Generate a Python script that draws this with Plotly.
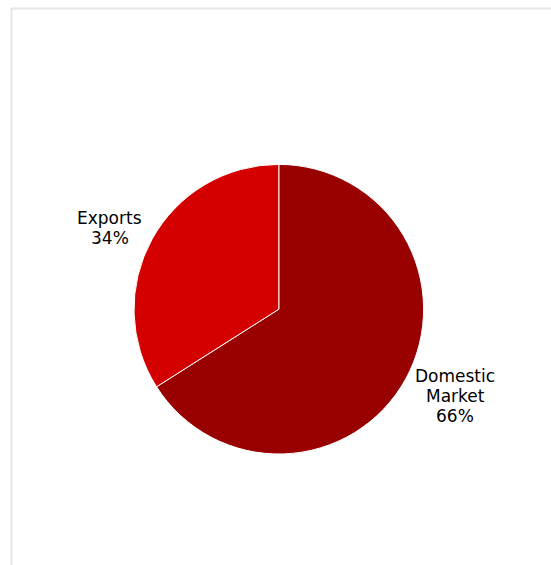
import plotly.graph_objects as go

labels = ["Domestic Market", "Exports"]
label_lines = [["Domestic", "Market"], ["Exports"]]
values = [66, 34]
colors = ["#990000", "#D40000"]

W, H = 551, 565

# pie geometry (pixels)
cx, cy, r = 278.8, 309.2, 144.8

fig = go.Figure(go.Pie(
    labels=labels,
    values=values,
    sort=False,
    direction="clockwise",
    rotation=0,
    marker=dict(colors=colors, line=dict(color="white", width=1)),
    textinfo="none",
    showlegend=False,
    domain=dict(x=[(cx - r) / W, (cx + r) / W], y=[(H - cy - r) / H, (H - cy + r) / H]),
    hoverinfo="skip",
))

# label anchor positions (pixel centres of first line) and line spacing
label_pos = [(455, 376.2), (110, 218.2)]
line_step = 19.7
total = sum(values)

annotations = []
for lines, v, (px, py) in zip(label_lines, values, label_pos):
    all_lines = lines + [f"{round(100 * v / total)}%"]
    for i, t in enumerate(all_lines):
        annotations.append(dict(
            text=t, xref="paper", yref="paper",
            x=px / W, y=1 - (py + i * line_step) / H,
            xanchor="center", yanchor="middle", showarrow=False,
            font=dict(family="DejaVu Sans", size=17, color="black"),
        ))

fig.update_layout(
    width=W, height=H,
    margin=dict(l=0, r=0, t=0, b=0),
    paper_bgcolor="white",
    plot_bgcolor="white",
    annotations=annotations,
    shapes=[dict(type="rect", xref="paper", yref="paper",
                 x0=11.5 / W, x1=1.05, y0=-0.05, y1=1 - 8.5 / H,
                 line=dict(color="#e6e6e6", width=2), fillcolor="rgba(0,0,0,0)")],
)

fig.write_html("out.html")
